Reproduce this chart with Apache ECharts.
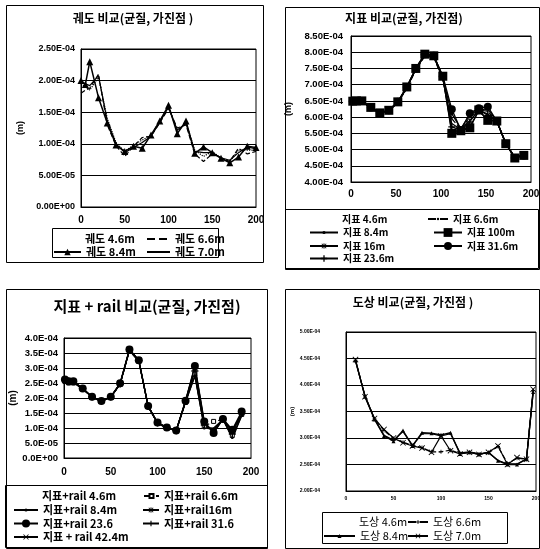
<!DOCTYPE html>
<html>
<head>
<meta charset="utf-8">
<script src="https://cdn.jsdelivr.net/npm/echarts@6/dist/echarts.min.js"></script>
<style>
  html, body { margin: 0; padding: 0; background: #fff; }
  #chart { width: 540px; height: 549px; }
</style>
</head>
<body>
<div id="chart"></div>
<script>
// all displacement values below are in units of 1e-4 m

// 궤도 (track) panel
const x1 = [0, 5, 10, 20, 30, 40, 50, 60, 70, 80, 90, 100, 110, 120, 130, 140, 150, 160, 170, 180, 190, 200];
const track46 = [1.95, 1.90, 1.85, 2.05, 1.40, 1.02, 0.88, 0.98, 1.06, 1.13, 1.36, 1.59, 1.20, 1.34, 0.90, 0.80, 0.88, 0.77, 0.72, 0.90, 0.90, 0.90];
const track66 = [1.80, 1.85, 1.88, 2.10, 1.30, 0.97, 0.80, 0.96, 1.10, 1.12, 1.33, 1.56, 1.25, 1.30, 0.84, 0.72, 0.84, 0.78, 0.72, 0.93, 0.84, 0.88];
const track84 = [2.00, 1.94, 2.30, 1.73, 1.33, 0.98, 0.88, 0.96, 0.93, 1.14, 1.36, 1.61, 1.16, 1.36, 0.85, 0.95, 0.86, 0.77, 0.70, 0.79, 0.96, 0.94];
const track70 = [1.97, 1.95, 1.92, 2.08, 1.36, 1.00, 0.86, 0.94, 1.02, 1.12, 1.34, 1.58, 1.22, 1.32, 0.88, 0.86, 0.86, 0.78, 0.74, 0.86, 0.95, 0.92];

// 지표 (ground surface) panel
const x2 = [2, 6, 12, 22, 32, 42, 52, 62, 72, 82, 92, 102, 112, 122, 132, 142, 152, 162, 172, 182, 192];
const surf46 = [6.46, 6.48, 6.48, 6.29, 6.12, 6.20, 6.45, 6.90, 7.47, 7.90, 7.86, 7.18, 5.80, 5.62, 5.90, 6.20, 6.10, 5.87, 5.19, 4.76, 4.83];
const surf66 = [6.44, 6.47, 6.47, 6.28, 6.11, 6.19, 6.44, 6.88, 7.45, 7.88, 7.84, 7.15, 5.95, 5.63, 6.00, 6.22, 6.18, 5.86, 5.20, 4.77, 4.84];
const surf84 = [6.45, 6.48, 6.48, 6.29, 6.12, 6.20, 6.45, 6.90, 7.48, 7.92, 7.88, 7.20, 6.10, 5.65, 6.08, 6.22, 6.25, 5.87, 5.20, 4.76, 4.84];
const surf100 = [6.49, 6.50, 6.50, 6.30, 6.13, 6.21, 6.47, 6.93, 7.50, 7.94, 7.89, 7.26, 5.50, 5.58, 5.67, 6.22, 5.90, 5.88, 5.18, 4.74, 4.82];
const surf16 = [6.50, 6.50, 6.49, 6.30, 6.14, 6.20, 6.46, 6.92, 7.50, 7.93, 7.88, 7.22, 5.55, 5.60, 5.70, 6.18, 5.92, 5.88, 5.17, 4.75, 4.82];
const surf316 = [6.49, 6.50, 6.50, 6.30, 6.13, 6.21, 6.47, 6.93, 7.50, 7.94, 7.89, 7.26, 6.24, 5.60, 6.12, 6.27, 6.32, 5.88, 5.18, 4.74, 4.82];
const surf236 = [6.48, 6.49, 6.49, 6.30, 6.13, 6.21, 6.46, 6.92, 7.49, 7.93, 7.88, 7.24, 5.70, 5.60, 5.85, 6.24, 6.05, 5.88, 5.18, 4.75, 4.83];

// 지표 + rail panel
const x3 = [1, 5, 10, 20, 30, 40, 50, 60, 70, 80, 90, 100, 110, 120, 130, 140, 150, 160, 170, 180, 190];
const rail46 = [2.57, 2.54, 2.52, 2.30, 2.03, 1.89, 2.03, 2.46, 3.58, 3.22, 1.72, 1.15, 1.00, 0.91, 1.86, 2.72, 1.02, 1.00, 1.28, 0.65, 1.40];
const rail66 = [2.55, 2.50, 2.50, 2.30, 2.02, 1.90, 2.02, 2.45, 3.58, 3.22, 1.75, 1.15, 1.00, 0.92, 1.85, 2.80, 1.05, 1.22, 1.28, 0.75, 1.45];
const rail84 = [2.58, 2.55, 2.52, 2.30, 2.03, 1.88, 2.03, 2.46, 3.60, 3.24, 1.70, 1.16, 1.00, 0.90, 1.88, 2.75, 1.00, 0.95, 1.30, 0.68, 1.42];
const rail16 = [2.60, 2.55, 2.54, 2.31, 2.04, 1.90, 2.04, 2.48, 3.60, 3.25, 1.72, 1.17, 1.01, 0.92, 1.90, 3.00, 1.15, 0.88, 1.30, 0.90, 1.50];
const rail236 = [2.62, 2.56, 2.56, 2.32, 2.04, 1.90, 2.04, 2.49, 3.62, 3.26, 1.73, 1.18, 1.02, 0.92, 1.91, 3.07, 1.22, 0.83, 1.30, 0.94, 1.55];
const rail316 = [2.60, 2.56, 2.55, 2.32, 2.03, 1.89, 2.03, 2.47, 3.61, 3.25, 1.72, 1.17, 1.02, 0.91, 1.88, 2.90, 1.10, 0.90, 1.30, 0.80, 1.48];
const rail424 = [2.60, 2.56, 2.55, 2.32, 2.04, 1.90, 2.04, 2.49, 3.62, 3.26, 1.73, 1.18, 1.02, 0.92, 1.90, 3.05, 1.20, 0.85, 1.30, 0.90, 1.52];

// 도상 (ballast) panel
const x4 = [10, 20, 30, 40, 50, 60, 70, 80, 90, 100, 110, 120, 130, 140, 150, 160, 170, 180, 190, 197];
const ballast46 = [4.45, 3.80, 3.36, 3.05, 2.96, 3.12, 2.86, 3.08, 3.08, 3.04, 3.08, 2.72, 2.74, 2.70, 2.72, 2.58, 2.51, 2.51, 2.61, 3.85];
const ballast66 = [4.47, 3.79, 3.36, 3.14, 2.99, 2.92, 2.86, 2.82, 2.74, 2.74, 2.77, 2.71, 2.73, 2.70, 2.72, 2.84, 2.52, 2.62, 2.60, 3.90];
const ballast84 = [4.46, 3.78, 3.35, 3.04, 2.94, 3.14, 2.85, 3.10, 3.09, 3.06, 3.10, 2.70, 2.73, 2.69, 2.73, 2.57, 2.50, 2.50, 2.60, 3.87];
const ballast70 = [4.48, 3.78, 3.37, 3.16, 3.00, 2.91, 2.85, 2.81, 2.73, 3.04, 2.76, 2.70, 2.73, 2.69, 2.73, 2.85, 2.50, 2.63, 2.60, 3.92];

// tick labels
const xTicks = ['0', '50', '100', '150', '200'];
const yTicks1 = ['0.00E+00', '5.00E-05', '1.00E-04', '1.50E-04', '2.00E-04', '2.50E-04'];
const yTicks2 = ['4.00E-04', '4.50E-04', '5.00E-04', '5.50E-04', '6.00E-04', '6.50E-04', '7.00E-04', '7.50E-04', '8.00E-04', '8.50E-04'];
const yTicks3 = ['0.0E+00', '5.0E-05', '1.0E-04', '1.5E-04', '2.0E-04', '2.5E-04', '3.0E-04', '3.5E-04', '4.0E-04'];
const yTicks4 = ['2.00E-04', '2.50E-04', '3.00E-04', '3.50E-04', '4.00E-04', '4.50E-04', '5.00E-04'];

const NUM = '"Liberation Sans", "Noto Sans CJK KR", sans-serif';
const KR = '"Noto Sans CJK KR", "Liberation Sans", sans-serif';

const PLUS = 'path://M4,0H6V4H10V6H6V10H4V6H0V4H4Z';
const CROSS = 'path://M0,1L1,0L5,4L9,0L10,1L6,5L10,9L9,10L5,6L1,10L0,9L4,5Z';
const STAR = 'path://M4.3,0H5.7V3.3L8.5,0.5L9.5,1.5L6.7,4.3H10V5.7H6.7L9.5,8.5L8.5,9.5L5.7,6.7V10H4.3V6.7L1.5,9.5L0.5,8.5L3.3,5.7H0V4.3H3.3L0.5,1.5L1.5,0.5L4.3,3.3Z';

function line(name, idx, xs, ys, opt) {
  const o = opt || {};
  return {
    name: name,
    type: 'line',
    xAxisIndex: idx,
    yAxisIndex: idx,
    data: xs.map((x, i) => [x, ys[i]]),
    symbol: o.symbol || 'none',
    symbolSize: o.size || 6,
    showSymbol: !!o.symbol,
    lineStyle: { color: '#000', width: o.width || 1.2, type: o.type || 'solid' },
    itemStyle: o.itemStyle || { color: '#000' },
    z: o.z || 2
  };
}

function xAx(idx, fs, margin) {
  return {
    type: 'value', gridIndex: idx, min: 0, max: 200, interval: 50,
    axisLine: { show: true, lineStyle: { color: '#000', width: 1 } },
    axisTick: { show: false },
    splitLine: { show: false },
    axisLabel: {
      margin: margin, fontSize: fs, fontWeight: 'bold', color: '#000', fontFamily: NUM,
      formatter: v => xTicks[Math.round(v / 50)]
    }
  };
}

function yAx(idx, min, max, labels, fs, margin, nameGap, nameSize) {
  return {
    type: 'value', gridIndex: idx, min: min, max: max, interval: 0.5,
    name: '(m)', nameLocation: 'middle', nameRotate: 90, nameGap: nameGap,
    nameTextStyle: { fontSize: nameSize, fontWeight: 'bold', color: '#000', fontFamily: NUM },
    axisLine: { show: true, lineStyle: { color: '#000', width: 1 } },
    axisTick: { show: false },
    splitLine: { show: true, lineStyle: { color: '#000', width: 1 } },
    axisLabel: {
      margin: margin, fontSize: fs, fontWeight: 'bold', color: '#000', fontFamily: NUM,
      formatter: v => labels[Math.round((v - min) / 0.5)]
    }
  };
}

const series = [
  line('궤도 4.6m', 0, x1, track46, { type: 'dotted' }),
  line('궤도 6.6m', 0, x1, track66, { type: 'dashed' }),
  line('궤도 8.4m', 0, x1, track84, { symbol: 'triangle', size: 7, width: 1.5, z: 4 }),
  line('궤도 7.0m', 0, x1, track70, {}),

  line('지표 4.6m', 1, x2, surf46, {}),
  line('지표 6.6m', 1, x2, surf66, { type: 'dashed', symbol: 'circle', size: 2 }),
  line('지표 8.4m', 1, x2, surf84, { symbol: 'circle', size: 3 }),
  line('지표 100m', 1, x2, surf100, { symbol: 'rect', size: 9, width: 1.4, z: 4 }),
  line('지표 16m', 1, x2, surf16, { symbol: STAR, size: 6 }),
  line('지표 31.6m', 1, x2, surf316, { symbol: 'circle', size: 8, width: 1.4, z: 4 }),
  line('지표 23.6m', 1, x2, surf236, { symbol: PLUS, size: 7 }),

  line('지표+rail 4.6m', 2, x3, rail46, {}),
  line('지표+rail 6.6m', 2, x3, rail66, { type: 'dashed', symbol: 'rect', size: 4, itemStyle: { color: '#fff', borderColor: '#000', borderWidth: 1 } }),
  line('지표+rail 8.4m', 2, x3, rail84, { symbol: 'circle', size: 3 }),
  line('지표+rail16m', 2, x3, rail16, { symbol: STAR, size: 6 }),
  line('지표+rail 23.6', 2, x3, rail236, { symbol: 'circle', size: 8, width: 1.4, z: 4 }),
  line('지표+rail 31.6', 2, x3, rail316, { symbol: PLUS, size: 7 }),
  line('지표 + rail 42.4m', 2, x3, rail424, { symbol: CROSS, size: 6 }),

  line('도상 4.6m', 3, x4, ballast46, {}),
  line('도상 6.6m', 3, x4, ballast66, { type: 'dashed', symbol: PLUS, size: 4 }),
  line('도상 8.4m', 3, x4, ballast84, { symbol: 'triangle', size: 4, width: 1.4 }),
  line('도상 7.0m', 3, x4, ballast70, { symbol: CROSS, size: 6 })
];

// series drawn as bare lines: keep the legend marker off
const plain = series.filter(s => s.symbol === 'none').map(s => s.name);
// first legend entry of each panel has no icon at all
const textOnly = ['궤도 4.6m', '지표 4.6m', '지표+rail 4.6m', '도상 4.6m'];

// one legend component per entry so each marker can have its own size
function leg(name, left, cy, iw, ih, fs, weight) {
  const lh = Math.max(fs + 2, ih);
  return {
    orient: 'vertical', left: left, top: cy - lh / 2, itemWidth: iw, itemHeight: ih, itemGap: 0,
    padding: 0, selectedMode: false,
    data: [textOnly.includes(name) ? { name: name, icon: 'none' }
      : plain.includes(name) ? { name: name, itemStyle: { opacity: 0 } } : name],
    textStyle: { fontSize: fs, lineHeight: lh, height: lh, fontWeight: weight, color: '#000', fontFamily: KR, padding: 0 }
  };
}

function box(x, y, w, h) {
  return { type: 'rect', shape: { x: x + 0.5, y: y + 0.5, width: w, height: h }, style: { fill: 'none', stroke: '#000', lineWidth: 1 }, z: 10 };
}

function title(text, x, y, fs) {
  return {
    type: 'text', x: x, y: y, z: 10,
    style: { text: text, font: 'bold ' + fs + 'px ' + KR, fill: '#000', align: 'center', verticalAlign: 'middle', textAlign: 'center', textVerticalAlign: 'middle' }
  };
}

const option = {
  animation: false,
  backgroundColor: '#fff',
  grid: [
    { left: 81, top: 49, width: 175, height: 158 },
    { left: 351, top: 36, width: 180, height: 146 },
    { left: 64, top: 338, width: 187, height: 120 },
    { left: 346, top: 332, width: 190, height: 159 }
  ].map(g => Object.assign(g, { show: true, borderColor: '#000', borderWidth: 1, backgroundColor: '#fff', containLabel: false, outerBoundsMode: 'none' })),
  xAxis: [xAx(0, 10, 8), xAx(1, 10, 7), xAx(2, 10, 9), xAx(3, 5, 5)],
  yAxis: [
    yAx(0, 0, 2.5, yTicks1, 9, 6, 56, 9),
    yAx(1, 4, 8.5, yTicks2, 9.5, 8, 58, 9),
    yAx(2, 0, 4, yTicks3, 9.5, 6, 43, 10),
    yAx(3, 2, 5, yTicks4, 5, 26, 40, 6)
  ],
  legend: [
    leg('궤도 4.6m', 53, 239, 27, 8, 11, 'bold'),
    leg('궤도 8.4m', 53, 252, 27, 8, 11, 'bold'),
    leg('궤도 6.6m', 146, 239, 23, 8, 11, 'bold'),
    leg('궤도 7.0m', 146, 252, 23, 8, 11, 'bold'),

    leg('지표 4.6m', 309, 219, 28, 4, 10, 'bold'),
    leg('지표 8.4m', 309, 232.5, 28, 4, 10, 'bold'),
    leg('지표 16m', 309, 246, 28, 7, 10, 'bold'),
    leg('지표 23.6m', 309, 258.5, 28, 8, 10, 'bold'),
    leg('지표 6.6m', 427, 219, 20, 3, 10, 'bold'),
    leg('지표 100m', 433, 232.5, 28, 11, 10, 'bold'),
    leg('지표 31.6m', 433, 246, 28, 10, 10, 'bold'),

    leg('지표+rail 4.6m', 13, 496, 24, 4, 11, 'bold'),
    leg('지표+rail 8.4m', 13, 510, 24, 4, 11, 'bold'),
    leg('지표+rail 23.6', 13, 523.5, 24, 10, 11, 'bold'),
    leg('지표 + rail 42.4m', 13, 537, 24, 7, 11, 'bold'),
    leg('지표+rail 6.6m', 143, 496, 15, 5, 11, 'bold'),
    leg('지표+rail16m', 142, 510, 16, 7, 11, 'bold'),
    leg('지표+rail 31.6', 142, 523.5, 16, 7, 11, 'bold'),

    leg('도상 4.6m', 323, 522, 31, 5, 11, 'normal'),
    leg('도상 8.4m', 323, 536, 31, 5, 11, 'normal'),
    leg('도상 6.6m', 407, 522, 20, 5, 11, 'normal'),
    leg('도상 7.0m', 407, 536, 20, 6, 11, 'normal')
  ],
  graphic: [
    box(6, 5, 257, 257),
    box(285, 7, 254, 262),
    box(6, 289, 261, 259),
    box(285, 289, 254, 259),
    box(52, 228, 166, 29),
    box(285, 209, 253, 59),
    box(5, 485, 262, 62),
    box(322, 512, 185, 31),
    title('궤도 비교(균질, 가진점 )', 133, 18, 12),
    title('지표 비교(균질, 가진점)', 404, 18, 12),
    title('지표 + rail 비교(균질, 가진점)', 147, 306, 15),
    title('도상 비교(균질, 가진점 )', 413, 302, 12)
  ],
  series: series
};

const chart = echarts.init(document.getElementById('chart'));
chart.setOption(option);
</script>
</body>
</html>
